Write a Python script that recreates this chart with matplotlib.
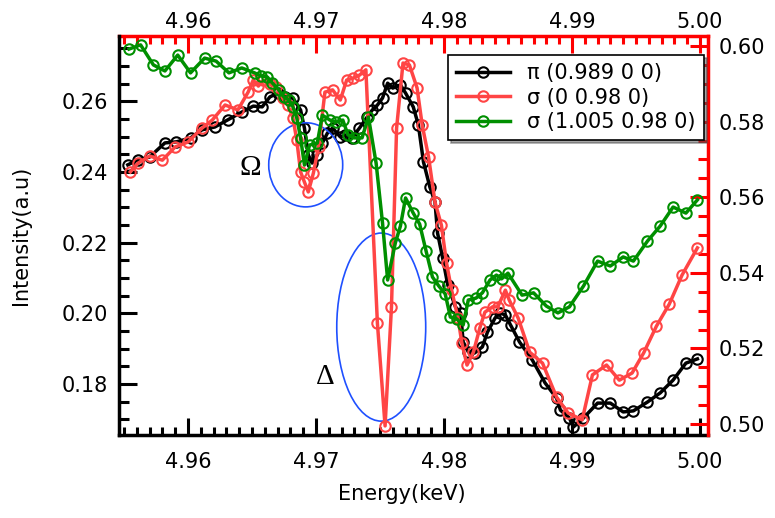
import matplotlib
matplotlib.use("Agg")
import matplotlib.pyplot as plt
from matplotlib.patches import Ellipse
from matplotlib.ticker import MultipleLocator, FormatStrFormatter

# pi (0.989 0 0) -> left axis
energy_pi = [4.9553, 4.9561, 4.9570, 4.9582, 4.9591, 4.9602, 4.9611, 4.9621, 4.9631, 4.9642,
             4.9651, 4.9658, 4.9664, 4.9670, 4.9676, 4.9682, 4.9688, 4.9691, 4.9694, 4.9697,
             4.9701, 4.9705, 4.9709, 4.9713, 4.9719, 4.9723, 4.9728, 4.9734, 4.9740, 4.9744,
             4.9748, 4.9752, 4.9756, 4.9760, 4.9766, 4.9770, 4.9776, 4.9780, 4.9784, 4.9789,
             4.9793, 4.9795, 4.9799, 4.9803, 4.9809, 4.9813, 4.9815, 4.9819, 4.9824, 4.9830,
             4.9834, 4.9840, 4.9844, 4.9848, 4.9852, 4.9859, 4.9869, 4.9879, 4.9888, 4.9891,
             4.9898, 4.9901, 4.9909, 4.9920, 4.9930, 4.9940, 4.9948, 4.9959, 4.9969, 4.9979,
             4.9989, 4.9998]
int_pi = [0.2420, 0.2434, 0.2442, 0.2482, 0.2485, 0.2496, 0.2519, 0.2527, 0.2547, 0.2569,
          0.2586, 0.2584, 0.2612, 0.2623, 0.2612, 0.2609, 0.2575, 0.2524, 0.2448, 0.2425,
          0.2448, 0.2482, 0.2510, 0.2524, 0.2499, 0.2504, 0.2496, 0.2524, 0.2555, 0.2575,
          0.2589, 0.2609, 0.2651, 0.2637, 0.2646, 0.2623, 0.2584, 0.2533, 0.2428, 0.2357,
          0.2315, 0.2227, 0.2156, 0.2080, 0.2018, 0.2001, 0.1919, 0.1891, 0.1888, 0.1905,
          0.1947, 0.1987, 0.2001, 0.1995, 0.1967, 0.1919, 0.1868, 0.1803, 0.1760, 0.1726,
          0.1704, 0.1678, 0.1704, 0.1746, 0.1746, 0.1721, 0.1724, 0.1749, 0.1775, 0.1811,
          0.1859, 0.1871]

# sigma (0 0.98 0) -> right axis
energy_s1 = [4.9555, 4.9561, 4.9570, 4.9580, 4.9590, 4.9600, 4.9611, 4.9619, 4.9629, 4.9639,
             4.9647, 4.9651, 4.9655, 4.9659, 4.9664, 4.9669, 4.9674, 4.9678, 4.9682, 4.9685,
             4.9688, 4.9691, 4.9694, 4.9698, 4.9702, 4.9707, 4.9713, 4.9719, 4.9724, 4.9729,
             4.9734, 4.9739, 4.9748, 4.9754, 4.9759, 4.9763, 4.9768, 4.9773, 4.9779, 4.9783,
             4.9788, 4.9793, 4.9798, 4.9802, 4.9806, 4.9811, 4.9814, 4.9818, 4.9823, 4.9828,
             4.9832, 4.9838, 4.9842, 4.9848, 4.9851, 4.9858, 4.9867, 4.9877, 4.9888, 4.9897,
             4.9908, 4.9916, 4.9927, 4.9937, 4.9947, 4.9956, 4.9966, 4.9976, 4.9986, 4.9998]
int_s1 = [0.5667, 0.5690, 0.5709, 0.5698, 0.5733, 0.5746, 0.5783, 0.5804, 0.5844, 0.5831,
          0.5878, 0.5910, 0.5894, 0.5910, 0.5899, 0.5892, 0.5862, 0.5844, 0.5810, 0.5751,
          0.5667, 0.5640, 0.5614, 0.5664, 0.5733, 0.5878, 0.5884, 0.5857, 0.5910, 0.5915,
          0.5923, 0.5937, 0.5267, 0.4995, 0.5310, 0.5783, 0.5955, 0.5950, 0.5889, 0.5791,
          0.5706, 0.5587, 0.5526, 0.5426, 0.5354, 0.5280, 0.5214, 0.5156, 0.5190, 0.5254,
          0.5296, 0.5310, 0.5310, 0.5354, 0.5328, 0.5280, 0.5190, 0.5161, 0.5071, 0.5029,
          0.5011, 0.5130, 0.5156, 0.5116, 0.5135, 0.5188, 0.5259, 0.5317, 0.5394, 0.5466]

# sigma (1.005 0.98 0) -> right axis
energy_s2 = [4.9554, 4.9563, 4.9573, 4.9582, 4.9592, 4.9602, 4.9613, 4.9622, 4.9632, 4.9642,
             4.9652, 4.9657, 4.9662, 4.9666, 4.9671, 4.9675, 4.9679, 4.9682, 4.9685, 4.9688,
             4.9691, 4.9695, 4.9701, 4.9705, 4.9711, 4.9716, 4.9721, 4.9725, 4.9730, 4.9736,
             4.9741, 4.9747, 4.9752, 4.9756, 4.9762, 4.9766, 4.9770, 4.9776, 4.9781, 4.9786,
             4.9791, 4.9796, 4.9801, 4.9805, 4.9810, 4.9815, 4.9819, 4.9825, 4.9830, 4.9836,
             4.9841, 4.9845, 4.9850, 4.9861, 4.9870, 4.9880, 4.9889, 4.9898, 4.9909, 4.9920,
             4.9930, 4.9940, 4.9948, 4.9959, 4.9969, 4.9979, 4.9989, 4.9998]
int_s2 = [0.5992, 0.6003, 0.5950, 0.5934, 0.5976, 0.5929, 0.5968, 0.5960, 0.5929, 0.5942,
          0.5929, 0.5921, 0.5918, 0.5902, 0.5884, 0.5865, 0.5857, 0.5839, 0.5810, 0.5757,
          0.5685, 0.5738, 0.5743, 0.5817, 0.5804, 0.5799, 0.5804, 0.5765, 0.5757, 0.5757,
          0.5812, 0.5690, 0.5532, 0.5381, 0.5479, 0.5524, 0.5598, 0.5558, 0.5529, 0.5458,
          0.5389, 0.5365, 0.5344, 0.5283, 0.5278, 0.5262, 0.5328, 0.5333, 0.5347, 0.5381,
          0.5394, 0.5384, 0.5399, 0.5341, 0.5347, 0.5312, 0.5294, 0.5310, 0.5365, 0.5431,
          0.5418, 0.5442, 0.5431, 0.5484, 0.5524, 0.5574, 0.5558, 0.5593]

labels = ["\u03c0 (0.989 0 0)", "\u03c3 (0 0.98 0)", "\u03c3 (1.005 0.98 0)"]
colors = ["black", "#ff4545", "#008f00"]
energy_ticks = [4.96, 4.97, 4.98, 4.99, 5.00]

# annotation ellipses (left-axis data units): centre x, centre y, width, height
omega_ell = (4.9692, 0.2420, 0.00578, 0.0238)
delta_ell = (4.9751, 0.1961, 0.00695, 0.0532)
omega_txt = (4.9649, 0.2411)
delta_txt = (4.9707, 0.1820)

plt.rcParams["font.family"] = ["DejaVu Sans"]

fig = plt.figure(figsize=(7.75, 5.18), dpi=100)
ax = fig.add_axes([0.1535, 0.1602, 0.7600, 0.7703])
ax2 = ax.twinx()
ax2.xaxis.set_visible(False)

mk = dict(marker="o", mfc="none", ms=7.5, mew=1.5, lw=2.5)
l1, = ax.plot(energy_pi, int_pi, color=colors[0], label=labels[0], **mk)
l2, = ax2.plot(energy_s1, int_s1, color=colors[1], label=labels[1], **mk)
l3, = ax2.plot(energy_s2, int_s2, color=colors[2], label=labels[2], **mk)

ax.set_xlim(4.95461, 5.000625)
ax.set_ylim(0.16557, 0.27844)
ax2.set_ylim(0.49709, 0.60265)

for e in [omega_ell, delta_ell]:
    ax.add_patch(Ellipse((e[0], e[1]), e[2], e[3], fill=False, ec="#1f50ff", lw=1.2, zorder=5))
ax.text(*omega_txt, "\u03a9", family="Liberation Serif", fontsize=21, ha="center", va="center")
ax.text(*delta_txt, "\u0394", family="Liberation Serif", fontsize=21, ha="center", va="center")

# bottom / left axes in black
ax.set_xticks(energy_ticks)
ax.xaxis.set_minor_locator(MultipleLocator(0.001))
ax.xaxis.set_major_formatter(FormatStrFormatter("%.2f"))
ax.yaxis.set_major_locator(MultipleLocator(0.02))
ax.yaxis.set_minor_locator(MultipleLocator(0.005))
ax.yaxis.set_major_formatter(FormatStrFormatter("%.2f"))
ax.tick_params(which="both", direction="in", width=2.2, labelsize=15, top=False, right=False)
ax.tick_params(axis="x", which="major", length=12, pad=12)
ax.tick_params(axis="x", which="minor", length=6)
ax.tick_params(axis="y", which="major", length=13, pad=8)
ax.tick_params(axis="y", which="minor", length=7)
for s in ["top", "right"]:
    ax.spines[s].set_visible(False)
for s in ["left", "bottom"]:
    ax.spines[s].set_linewidth(2.5)

# right axis in red
for s in ["left", "bottom", "top"]:
    ax2.spines[s].set_visible(False)
ax2.spines["right"].set_color("red")
ax2.spines["right"].set_linewidth(2.5)
ax2.yaxis.set_major_locator(MultipleLocator(0.02))
ax2.yaxis.set_minor_locator(MultipleLocator(0.005))
ax2.yaxis.set_major_formatter(FormatStrFormatter("%.2f"))
ax2.tick_params(which="both", direction="in", width=2.2, color="red", labelsize=15)
ax2.tick_params(which="major", length=13, pad=8)
ax2.tick_params(which="minor", length=7)

# top axis in red
top = ax.secondary_xaxis("top")
top.set_xticks(energy_ticks)
top.xaxis.set_minor_locator(MultipleLocator(0.001))
top.xaxis.set_major_formatter(FormatStrFormatter("%.2f"))
top.tick_params(which="both", direction="in", width=2.2, color="red", labelsize=15)
top.tick_params(which="major", length=12, pad=3)
top.tick_params(which="minor", length=6)
top.spines["top"].set_color("red")
top.spines["top"].set_linewidth(2.5)

ax.set_xlabel("Energy(keV)", fontsize=15)
ax.xaxis.set_label_coords(0.48, -0.123)
ax.set_ylabel("Intensity(a.u)", fontsize=15)
ax.yaxis.set_label_coords(-0.149, 0.5)

leg = ax2.legend([l1, l2, l3], labels, loc="upper right", bbox_to_anchor=(0.993, 0.952),
                 fontsize=15, numpoints=1, handlelength=2.6, labelspacing=0.2,
                 fancybox=False, shadow=True, framealpha=1, borderaxespad=0)
leg.get_frame().set_edgecolor("black")
leg.get_frame().set_linewidth(1.2)

fig.savefig("out.png", dpi=100)
